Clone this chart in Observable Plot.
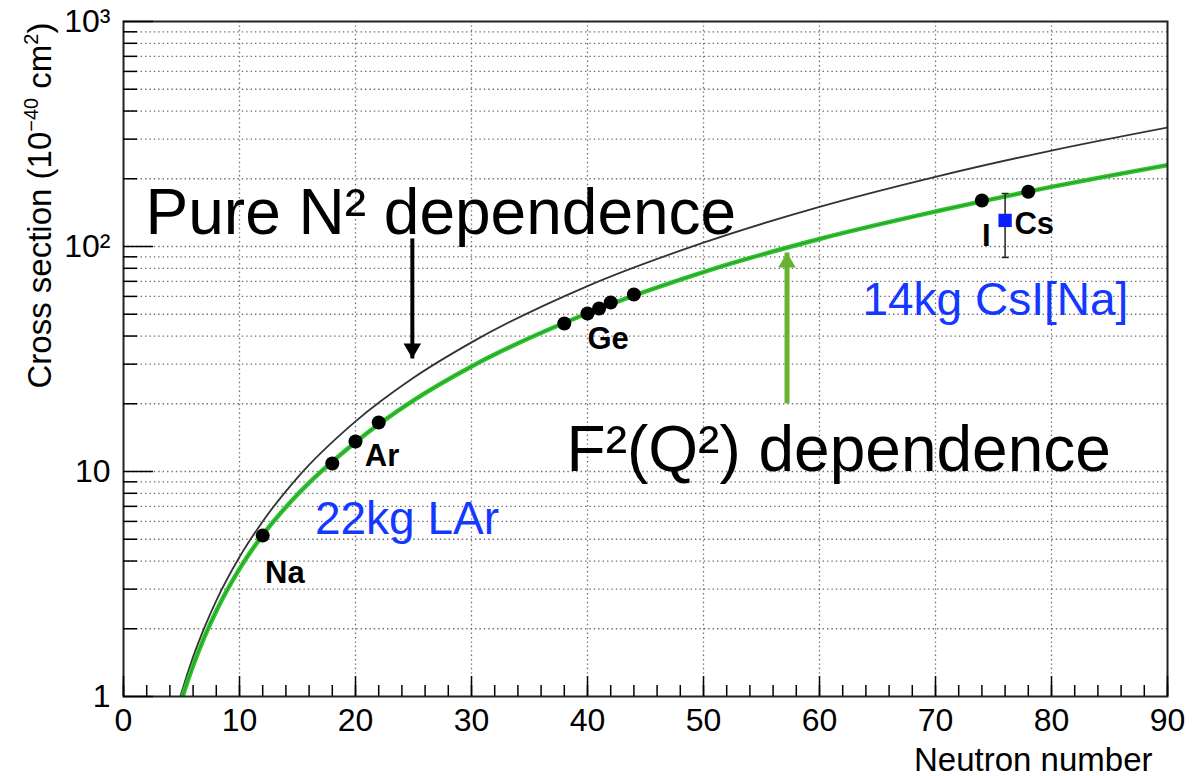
<!DOCTYPE html>
<html><head><meta charset="utf-8">
<script src="https://cdn.jsdelivr.net/npm/d3@7"></script>
<script src="https://cdn.jsdelivr.net/npm/@observablehq/plot@0.6"></script>
<style>body{margin:0;background:#fff}</style>
</head><body><div id="chart"></div>
<script>
// Curves
const curveN = [4.8, 5, 6, 7, 8, 10, 12, 15, 20, 25, 30, 40, 50, 60, 70, 80, 90];
const pureN2 = [0.96, 1.04, 1.50, 2.04, 2.67, 4.17, 6.0, 9.4, 16.7, 26.1, 37.5, 66.7, 104, 150, 204, 267, 338];
const formFactor = [0.88, 0.96, 1.37, 1.85, 2.40, 3.69, 5.22, 7.9, 13.5, 20.7, 29.3, 50.5, 77, 108, 143, 184, 230];

// Nuclei predictions (black dots)
const neutronN = [12, 18, 20, 22, 38, 40, 41, 42, 44, 74, 78];
const sigma = [5.19, 10.85, 13.6, 16.5, 45.5, 50.4, 53, 56.4, 61.2, 160, 175];

// CsI measurement
const measN = [76];
const measSigma = [130.6];
const measLo = [89.4];
const measHi = [172];

// Element labels
const elemText = ["Na", "Ar", "Ge", "I", "Cs"];
const elemN = [12.2, 20.8, 40.0, 74.0, 76.8];
const elemSigma = [3.2, 10.6, 35.2, 101, 114];

// Detector labels (blue)
const detText = ["22kg LAr", "14kg CsI[Na]"];
const detN = [16.5, 63.7];
const detSigma = [5.3, 49.4];

// Big annotations
const noteText = ["Pure N\u00b2 dependence", "F\u00b2(Q\u00b2) dependence"];
const noteN = [1.9, 38.2];
const noteSigma = [114, 10.1];

// Arrows
const arrowN = [24.9, 57.2];
const arrowFrom = [108.6, 20.1];
const arrowTo = [31.8, 94];
const arrowColor = ["#000000", "#66b32e"];

const xMajor = d3.range(0, 91, 10);
const xMinor = d3.range(0, 91, 2);
const yMajor = [1, 10, 100, 1000];
const yMinor = [1, 10, 100].flatMap(k => d3.range(2, 10).map(m => m * k));
const yGrid = [1, 10, 100].flatMap(k => d3.range(1, 10).map(m => m * k)).filter(v => v > 1);
const supMap = {1: "1", 10: "10", 100: "10\u00b2", 1000: "10\u00b3"};

const curves = curveN.map((n, i) => ({n, pure: pureN2[i], ff: formFactor[i]}));
const points = neutronN.map((n, i) => ({n, s: sigma[i]}));
const meas = measN.map((n, i) => ({n, s: measSigma[i], lo: measLo[i], hi: measHi[i]}));
const elems = elemText.map((t, i) => ({t, n: elemN[i], s: elemSigma[i]}));
const dets = detText.map((t, i) => ({t, n: detN[i], s: detSigma[i]}));
const notes = noteText.map((t, i) => ({t, n: noteN[i], s: noteSigma[i]}));
const arrows = arrowN.map((n, i) => ({n, from: arrowFrom[i], to: arrowTo[i], c: arrowColor[i]}));

const grid = {stroke: "#555", strokeOpacity: 0.85, strokeDasharray: "1.4,3", strokeWidth: 1.3};

const chart = Plot.plot({
  width: 1203, height: 776,
  marginLeft: 123, marginRight: 36, marginTop: 21, marginBottom: 80,
  x: {domain: [0, 90]},
  y: {type: "log", domain: [1, 1000]},
  style: {fontFamily: "'Liberation Sans', Arial, Helvetica, sans-serif", background: "#fff", color: "#000"},
  marks: [
    Plot.gridX({ticks: d3.range(10, 90, 10), ...grid}),
    Plot.gridY({ticks: yGrid, ...grid}),
    Plot.line(curves, {x: "n", y: "pure", stroke: "#333", strokeWidth: 1.8, curve: "monotone-x", clip: true}),
    Plot.line(curves, {x: "n", y: "ff", stroke: "#2fc42f", strokeWidth: 4.5, curve: "monotone-x", clip: true}),
    Plot.line(curves, {x: "n", y: "ff", stroke: "#1d5a1d", strokeOpacity: 0.45, strokeWidth: 1, curve: "monotone-x", clip: true}),
    Plot.dot(points, {x: "n", y: "s", r: 7, fill: "#000"}),
    Plot.ruleX(meas, {x: "n", y1: "lo", y2: "hi", stroke: "#222", strokeWidth: 1.5}),
    Plot.link(meas, {x1: d => d.n - 0.3, x2: d => d.n + 0.3, y1: "lo", y2: "lo", stroke: "#222", strokeWidth: 1.5}),
    Plot.link(meas, {x1: d => d.n - 0.3, x2: d => d.n + 0.3, y1: "hi", y2: "hi", stroke: "#222", strokeWidth: 1.5}),
    Plot.dot(meas, {x: "n", y: "s", symbol: "square", r: 7.5, fill: "#0a1eff"}),
    Plot.text(elems, {x: "n", y: "s", text: "t", textAnchor: "start", lineAnchor: "bottom", fontSize: 31, fontWeight: "bold", fill: "#000"}),
    Plot.text(dets, {x: "n", y: "s", text: "t", textAnchor: "start", lineAnchor: "bottom", fontSize: 46, fill: "#1438ff"}),
    Plot.text(notes, {x: "n", y: "s", text: "t", textAnchor: "start", lineAnchor: "bottom", fontSize: 64, fill: "#000"}),
    Plot.link(arrows, {x: "n", y1: "from", y2: "to", stroke: "c", strokeWidth: d => d.c === "#000000" ? 4 : 5}),
    Plot.dot(arrows.filter(d => d.to < d.from), {x: "n", y: "to", symbol: "triangle", r: 6.5, fill: "c", rotate: 180, dy: -10}),
    Plot.dot(arrows.filter(d => d.to > d.from), {x: "n", y: "to", symbol: "triangle", r: 6.5, fill: "c", dy: 10}),
    Plot.frame({stroke: "#222", strokeWidth: 2}),
    Plot.axisX({ticks: xMinor, tickSize: -11, text: null, strokeWidth: 1.5, label: null}),
    Plot.axisX({ticks: xMajor, tickSize: -20, text: null, strokeWidth: 1.5, label: null}),
    Plot.axisX({ticks: xMajor, tickSize: 0, tickPadding: 12, fontSize: 32, label: null}),
    Plot.axisY({ticks: yMinor, tickSize: -14, text: null, strokeWidth: 1.5, label: null}),
    Plot.axisY({ticks: yMajor, tickSize: -30, text: null, strokeWidth: 1.5, label: null}),
    Plot.axisY({ticks: yMajor, tickSize: 0, tickPadding: 13, fontSize: 32, tickFormat: d => supMap[d], label: null}),
    Plot.text(["Neutron number"], {frameAnchor: "bottom-right", textAnchor: "end", lineAnchor: "bottom", dx: -15, dy: 74, fontSize: 33}),
    Plot.text(["Cross section (10-40 cm2)"], {frameAnchor: "top-left", rotate: -90, textAnchor: "end", lineAnchor: "middle", dx: -83, dy: 1, fontSize: 33})
  ]
});
document.getElementById("chart").appendChild(chart);

// Typeset superscripts in the y-axis title
d3.select(chart).selectAll("text")
  .filter(function () { return this.textContent === "Cross section (10-40 cm2)"; })
  .each(function () {
    const t = d3.select(this);
    t.text(null);
    t.append("tspan").text("Cross section (10");
    t.append("tspan").attr("dy", -13).attr("font-size", 20).text("\u221240");
    t.append("tspan").attr("dy", 13).text(" cm");
    t.append("tspan").attr("dy", -13).attr("font-size", 20).text("2");
    t.append("tspan").attr("dy", 13).text(")");
  });
</script>
</body></html>
